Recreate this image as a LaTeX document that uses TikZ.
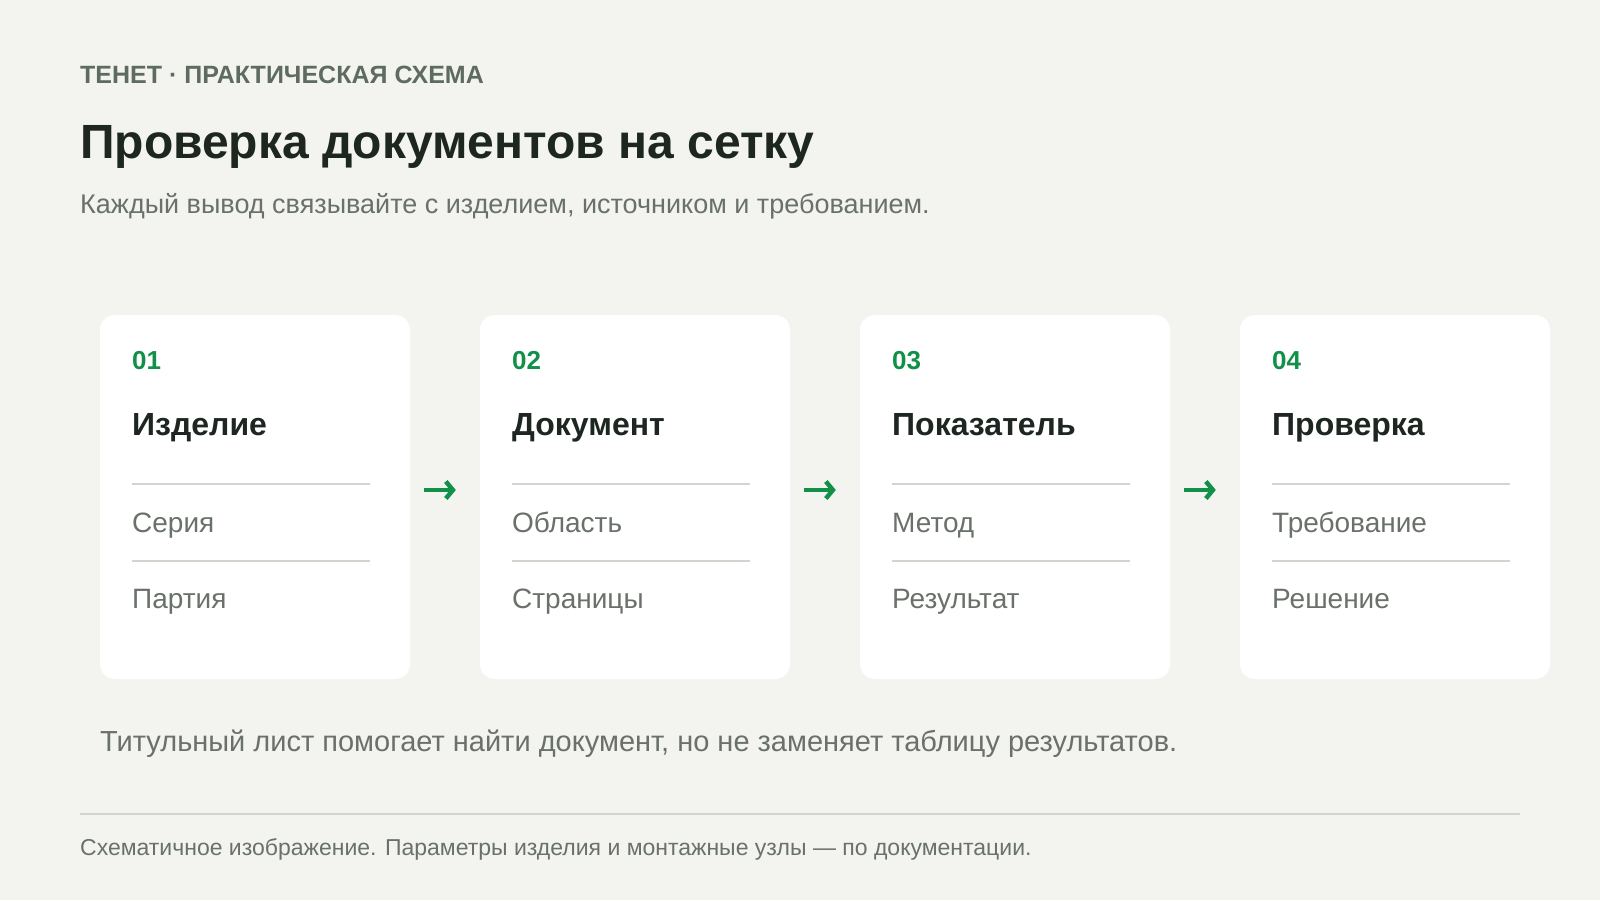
\documentclass[tikz,border=0pt]{standalone}
\usepackage{fontspec}
\setmainfont{Liberation Sans}
\usetikzlibrary{arrows.meta,positioning,calc}

\definecolor{pagebg}{HTML}{F3F4EF}
\definecolor{kickergray}{HTML}{5E6B61}
\definecolor{inkdark}{HTML}{1D2620}
\definecolor{softgray}{HTML}{6A716A}
\definecolor{stepgreen}{HTML}{12904A}
\definecolor{rulegray}{HTML}{D2D5CE}

\begin{document}
\begin{tikzpicture}[
    x=1pt, y=-1pt,
    card/.style={
        rectangle,
        minimum width=310pt,    minimum height=364pt,
        rounded corners=15pt,
        draw=none,
        fill=white
    },
    plaintext/.style={anchor=base west, inner sep=0pt},
    kicker/.style={plaintext, font=\fontsize{25}{29}\selectfont\bfseries, text=kickergray},
    headline/.style={plaintext, font=\fontsize{48}{56}\selectfont\bfseries, text=inkdark},
    subline/.style={plaintext, font=\fontsize{27}{32}\selectfont, text=softgray},
    stepnum/.style={plaintext, font=\fontsize{26}{31}\selectfont\bfseries, text=stepgreen},
    steptitle/.style={plaintext, font=\fontsize{32}{38}\selectfont\bfseries, text=inkdark},
    stepitem/.style={plaintext, font=\fontsize{28}{33}\selectfont, text=softgray},
    sepline/.style={draw=rulegray, line width=2pt},
    mainarrow/.style={draw=stepgreen, line width=4pt,
        -{Straight Barb[length=7pt, width=17pt, line width=4.5pt]}}
]

\fill[pagebg] (0,0) rectangle (1600,900);
\useasboundingbox (0,0) rectangle (1600,900);

\node[kicker]   (kick)  at (80,83)  {ТЕНЕТ · ПРАКТИЧЕСКАЯ СХЕМА};
\node[headline] (title) at (80,158) {Проверка документов на сетку};
\node[subline]  (sub)   at (80,213) {Каждый вывод связывайте с изделием, источником и требованием.};

\node[card] (card1) at (255, 497) {};
\node[stepnum]   (num1)   at (132,369) {01};
\node[steptitle] (head1)  at (132,435) {Изделие};
\node[stepitem]  (itemA1) at (132,532) {Серия};
\node[stepitem]  (itemB1) at (132,608) {Партия};
\draw[sepline] ($(card1.north west)+(32,169)$) -- ($(card1.north east)+(-40,169)$);
\draw[sepline] ($(card1.north west)+(32,246)$) -- ($(card1.north east)+(-40,246)$);

\node[card] (card2) at (635, 497) {};
\node[stepnum]   (num2)   at (512,369) {02};
\node[steptitle] (head2)  at (512,435) {Документ};
\node[stepitem]  (itemA2) at (512,532) {Область};
\node[stepitem]  (itemB2) at (512,608) {Страницы};
\draw[sepline] ($(card2.north west)+(32,169)$) -- ($(card2.north east)+(-40,169)$);
\draw[sepline] ($(card2.north west)+(32,246)$) -- ($(card2.north east)+(-40,246)$);

\node[card] (card3) at (1015, 497) {};
\node[stepnum]   (num3)   at (892,369) {03};
\node[steptitle] (head3)  at (892,435) {Показатель};
\node[stepitem]  (itemA3) at (892,532) {Метод};
\node[stepitem]  (itemB3) at (892,608) {Результат};
\draw[sepline] ($(card3.north west)+(32,169)$) -- ($(card3.north east)+(-40,169)$);
\draw[sepline] ($(card3.north west)+(32,246)$) -- ($(card3.north east)+(-40,246)$);

\node[card] (card4) at (1395, 497) {};
\node[stepnum]   (num4)   at (1272,369) {04};
\node[steptitle] (head4)  at (1272,435) {Проверка};
\node[stepitem]  (itemA4) at (1272,532) {Требование};
\node[stepitem]  (itemB4) at (1272,608) {Решение};
\draw[sepline] ($(card4.north west)+(32,169)$) -- ($(card4.north east)+(-40,169)$);
\draw[sepline] ($(card4.north west)+(32,246)$) -- ($(card4.north east)+(-40,246)$);

\draw[mainarrow] ($(card1.east)+(14,-7)$) -- ($(card2.west)+(-24,-7)$);
\draw[mainarrow] ($(card2.east)+(14,-7)$) -- ($(card3.west)+(-24,-7)$);
\draw[mainarrow] ($(card3.east)+(14,-7)$) -- ($(card4.west)+(-24,-7)$);

\node[plaintext, font=\fontsize{29}{34}\selectfont, text=softgray] (note) at (100,751)
    {Титульный лист помогает найти документ, но не заменяет таблицу результатов.};

\coordinate (ruleL) at (80,814);
\coordinate (ruleR) at (1520,814);
\draw[sepline] (ruleL) -- (ruleR);

\node[plaintext, font=\fontsize{23}{27}\selectfont, text=softgray] (foot) at (80,855)
    {Схематичное изображение. Параметры изделия и монтажные узлы — по документации.};

\end{tikzpicture}
\end{document}
